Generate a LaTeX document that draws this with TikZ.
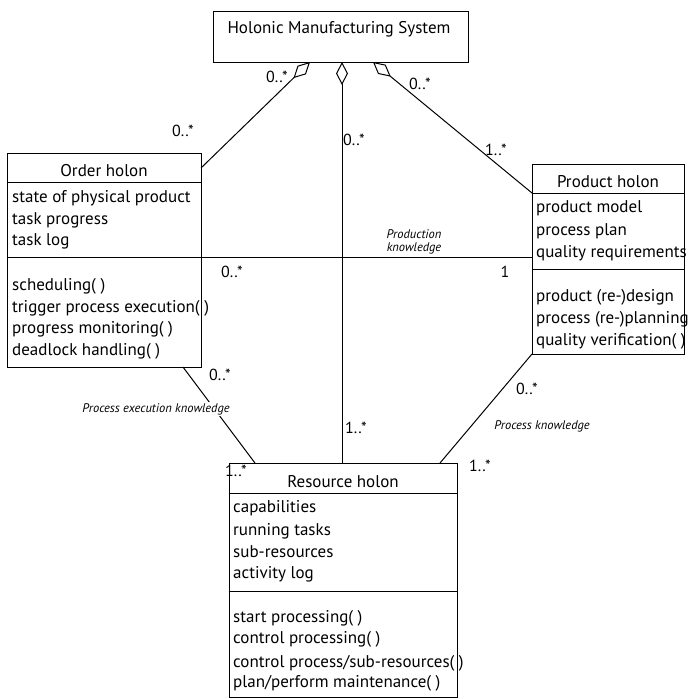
\documentclass[tikz,border=0pt]{standalone}
\usepackage{fontspec}
\setmainfont{PT Sans}
\usetikzlibrary{arrows.meta}
\begin{document}
\begin{tikzpicture}[x=1pt,y=-1pt,
  box/.style={draw, line width=1pt, inner sep=0pt},
  txt/.style={anchor=base west, inner sep=0pt, font=\fontsize{17}{20}\selectfont},
  ttl/.style={anchor=base, inner sep=0pt, font=\fontsize{17}{20}\selectfont},
  mult/.style={inner sep=0pt, font=\fontsize{16}{18}\selectfont},
  lab/.style={fill=white, inner sep=1.5pt, align=center, font=\itshape\fontsize{12.5}{13}\selectfont},
  conn/.style={line width=1pt},
  agg/.style={conn, {Diamond[open,length=23pt,width=12pt]}-}]
\useasboundingbox (0,0) rectangle (694,699);
% boxes
\node[box, minimum width=255pt, minimum height=51pt] (hms) at (340.5,36.5) {};
\node[box, minimum width=194pt, minimum height=214pt] (order) at (104,260) {};
\node[box, minimum width=152pt, minimum height=190pt] (product) at (608,259) {};
\node[box, minimum width=228pt, minimum height=234pt] (resource) at (343,580) {};
% separators
\draw[conn] (order.west |- 0,182) -- (order.east |- 0,182);
\draw[conn] (order.west |- 0,257) -- (order.east |- 0,257);
\draw[conn] (product.west |- 0,193) -- (product.east |- 0,193);
\draw[conn] (product.west |- 0,269) -- (product.east |- 0,269);
\draw[conn] (resource.west |- 0,493) -- (resource.east |- 0,493);
\draw[conn] (resource.west |- 0,591) -- (resource.east |- 0,591);
% texts
\node[ttl] (hmst) at (339,33) {Holonic Manufacturing System};
\node[ttl] (ot) at (104,176) {Order holon};
\node[txt] (o1) at (12,202) {state of physical product};
\node[txt] (o2) at (12,224) {task progress};
\node[txt] (o3) at (12,245) {task log};
\node[txt] (o4) at (12,290) {scheduling( )};
\node[txt] (o5) at (12,312) {trigger process execution( )};
\node[txt] (o6) at (12,333) {progress monitoring( )};
\node[txt] (o7) at (12,355) {deadlock handling( )};
\node[ttl] (pt) at (608,187) {Product holon};
\node[txt] (p1) at (536,212) {product model};
\node[txt] (p2) at (536,235) {process plan};
\node[txt] (p3) at (536,257) {quality requirements};
\node[txt] (p4) at (536,301) {product (re-)design};
\node[txt] (p5) at (536,323) {process (re-)planning};
\node[txt] (p6) at (536,345) {quality verification( )};
\node[ttl] (rt) at (343,487) {Resource holon};
\node[txt] (r1) at (233,512) {capabilities};
\node[txt] (r2) at (233,535) {running tasks};
\node[txt] (r3) at (233,557) {sub-resources};
\node[txt] (r4) at (233,578) {activity log};
\node[txt] (r5) at (233,622) {start processing( )};
\node[txt] (r6) at (233,643) {control processing( )};
\node[txt] (r7) at (233,667) {control process/sub-resources( )};
\node[txt] (r8) at (233,687) {plan/perform maintenance( )};
% connector end points
\coordinate (hL) at (310,62);
\coordinate (hM) at (342,62);
\coordinate (hR) at (373,62);
\coordinate (oE) at (201,168);
\coordinate (oS) at (183,367);
\coordinate (oK) at (201,257);
\coordinate (pW) at (532,193);
\coordinate (pK) at (532,257);
\coordinate (pS) at (532,354);
\coordinate (rL) at (255,463);
\coordinate (rM) at (342,463);
\coordinate (rR) at (440,463);
% connectors
\draw[agg] (hL) -- (oE);
\draw[agg] (hM) -- (rM);
\draw[agg] (hR) -- (pW);
\draw[conn] (oK) -- (pK);
\draw[conn] (oS) -- (rL);
\draw[conn] (pS) -- (rR);
% connector labels
\node[lab] (lk) at (414,242) {Production\\knowledge};
\node[lab] (le) at (156,409) {Process execution knowledge};
\node[lab, fill=none] (lp) at (542,426) {Process knowledge};
% multiplicities
\node[mult] (m1) at (277,77) {0..*};
\node[mult] (m2) at (420,84) {0..*};
\node[mult] (m3) at (183,131) {0..*};
\node[mult] (m4) at (354,140) {0..*};
\node[mult] (m5) at (496,150) {1..*};
\node[mult] (m6) at (232,272) {0..*};
\node[mult] (m7) at (505,272) {1};
\node[mult] (m8) at (220,375) {0..*};
\node[mult] (m9) at (356,428) {1..*};
\node[mult] (m10) at (236,471) {1..*};
\node[mult] (m11) at (480,466) {1..*};
\node[mult] (m12) at (527,389) {0..*};
\end{tikzpicture}
\end{document}
